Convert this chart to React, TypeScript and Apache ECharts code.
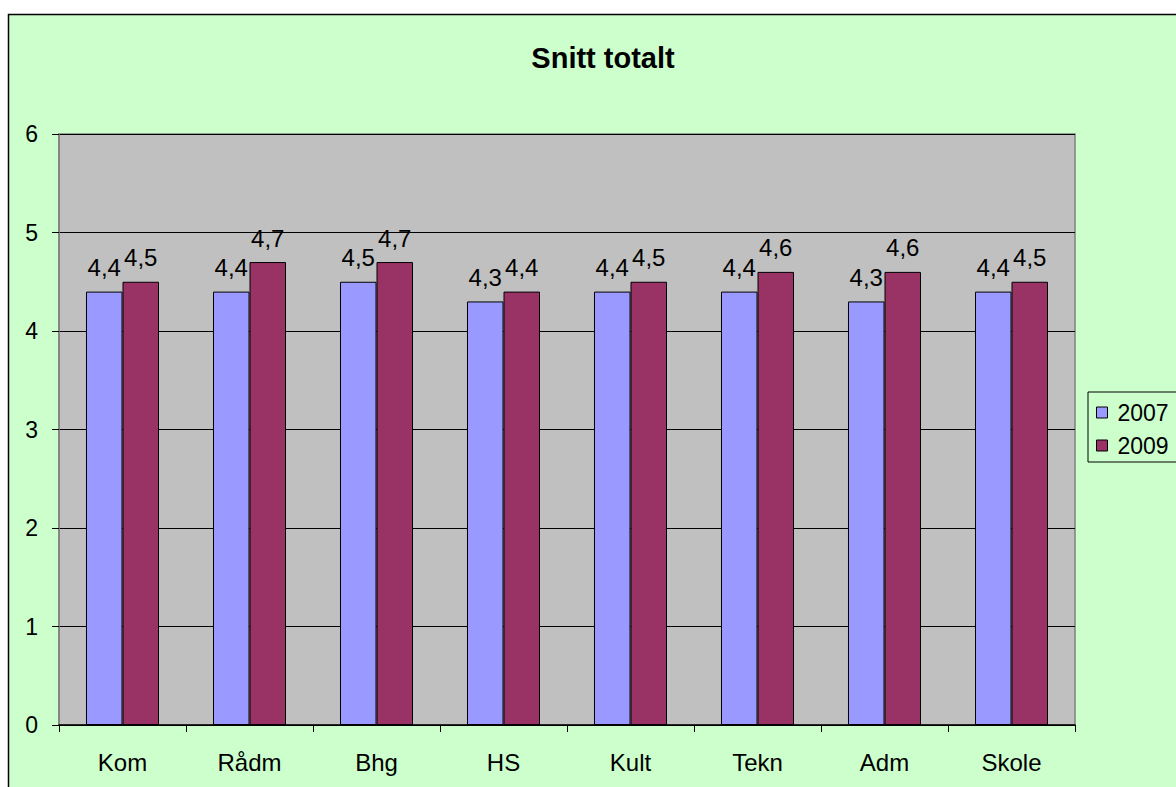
import React, { useEffect, useRef } from "react";
import * as echarts from "echarts";

const categories = ["Kom", "Rådm", "Bhg", "HS", "Kult", "Tekn", "Adm", "Skole"];
const series2007 = [4.4, 4.4, 4.5, 4.3, 4.4, 4.4, 4.3, 4.4];
const series2009 = [4.5, 4.7, 4.7, 4.4, 4.5, 4.6, 4.6, 4.5];
const seriesNames = ["2007", "2009"];
const titleText = "Snitt totalt";

const FONT = "'Liberation Sans', Arial, sans-serif";

export default function App() {
  const ref = useRef<HTMLDivElement>(null);
  useEffect(() => {
    if (!ref.current) return;
    const chart = echarts.init(ref.current, null, { renderer: "svg" });
    const label = {
      show: true,
      position: "top" as const,
      distance: 12,
      fontSize: 24,
      fontFamily: FONT,
      color: "#000",
      formatter: (p: any) => String(p.value).replace(".", ","),
    };
    chart.setOption({
      animation: false,
      backgroundColor: "#ffffff",
      textStyle: { fontFamily: FONT },
      graphic: [
        {
          type: "rect",
          z: -10,
          silent: true,
          shape: { x: 8.5, y: 14.5, width: 1200, height: 800 },
          style: { fill: "#CCFFCC", stroke: "#000", lineWidth: 1.5 },
        },
      ],
      title: {
        text: titleText,
        left: 598,
        top: 38,
        textAlign: "center",
        textStyle: { fontSize: 29, fontWeight: "bold", color: "#000", fontFamily: FONT },
      },
      legend: {
        data: seriesNames.map((n) => ({ name: n, icon: "rect" })),
        orient: "vertical",
        left: 1088,
        top: 392,
        padding: [9, 40, 5, 8],
        itemGap: 10,
        itemWidth: 11,
        itemHeight: 11,
        borderColor: "#000",
        borderWidth: 1,
        backgroundColor: "#CCFFCC",
        itemStyle: { borderColor: "#000", borderWidth: 1 },
        textStyle: { fontSize: 23, color: "#000", fontFamily: FONT, padding: [0, 0, 0, 5] },
      },
      grid: {
        left: 59,
        top: 134,
        right: 101,
        bottom: 62,
        show: true,
        backgroundColor: "#C0C0C0",
        borderColor: "#808080",
        borderWidth: 1.5,
      },
      xAxis: {
        type: "category",
        data: categories,
        axisLine: { lineStyle: { color: "#000", width: 1.5 } },
        axisTick: { show: true, length: 7, lineStyle: { color: "#000" } },
        axisLabel: { fontSize: 24, color: "#000", margin: 25, fontFamily: FONT },
      },
      yAxis: {
        type: "value",
        min: 0,
        max: 6,
        interval: 1,
        axisLine: { show: true, lineStyle: { color: "#808080", width: 1.5 } },
        axisTick: { show: true, length: 7, lineStyle: { color: "#000" } },
        splitLine: { lineStyle: { color: "#000", width: 1 } },
        axisLabel: { fontSize: 23, color: "#000", margin: 21, fontFamily: FONT },
      },
      series: [
        {
          name: seriesNames[0],
          type: "bar",
          data: series2007,
          barGap: "0%",
          barCategoryGap: "42.5%",
          itemStyle: { color: "#9999FF", borderColor: "#000", borderWidth: 1 },
          label,
        },
        {
          name: seriesNames[1],
          type: "bar",
          data: series2009,
          itemStyle: { color: "#993366", borderColor: "#000", borderWidth: 1 },
          label,
        },
      ],
    });
    return () => chart.dispose();
  }, []);
  return (
    <div
      ref={ref}
      style={{ position: "fixed", left: 0, top: 0, width: 1176, height: 787 }}
    />
  );
}
